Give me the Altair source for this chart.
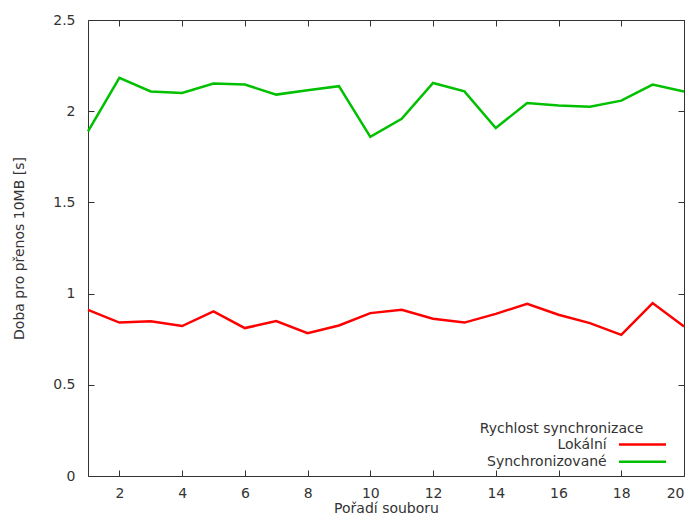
import altair as alt
import pandas as pd

poradi = list(range(1, 21))
lokalni = [0.911, 0.841, 0.849, 0.822, 0.902, 0.811, 0.849, 0.783, 0.825, 0.893,
           0.911, 0.862, 0.841, 0.889, 0.944, 0.884, 0.838, 0.774, 0.948, 0.820]
synchronizovane = [1.890, 2.183, 2.108, 2.100, 2.152, 2.146, 2.091, 2.115, 2.137, 1.859,
                   1.958, 2.155, 2.109, 1.908, 2.045, 2.031, 2.025, 2.058, 2.146, 2.108]
series_names = ["Lokální", "Synchronizované"]
series_colors = ["#ff0000", "#00c000"]
x_ticks = list(range(2, 21, 2))
y_ticks = [0, 0.5, 1, 1.5, 2, 2.5]
legend_title = "Rychlost synchronizace"
x_title = "Pořadí souboru"
y_title = "Doba pro přenos 10MB [s]"

df = pd.DataFrame({
    "poradi": poradi * 2,
    "doba": lokalni + synchronizovane,
    "serie": [series_names[0]] * len(poradi) + [series_names[1]] * len(poradi),
})

FONT = "DejaVu Sans"
FS = 14
TXT = "#333333"
x_scale = alt.Scale(domain=[1, 20], nice=False, zero=False)
y_scale = alt.Scale(domain=[0, 2.5], nice=False)
color_scale = alt.Scale(domain=series_names, range=series_colors)

lines = alt.Chart(df).mark_line(strokeWidth=2.5).encode(
    x=alt.X("poradi:Q", scale=x_scale,
            axis=alt.Axis(orient="bottom", values=x_ticks, title=x_title, offset=-6,
                          tickSize=6, labelPadding=10, titleBaseline="alphabetic",
                          titleY=42, domain=False, grid=False, format="d")),
    y=alt.Y("doba:Q", scale=y_scale,
            axis=alt.Axis(orient="left", values=y_ticks, format="~g", title=y_title,
                          offset=-6, tickSize=6, labelPadding=13, titlePadding=26,
                          domain=False, grid=False)),
    color=alt.Color("serie:N", scale=color_scale, legend=None),
)

mirror = alt.Chart(df).mark_line(strokeOpacity=0).encode(
    x=alt.X("poradi:Q", scale=x_scale,
            axis=alt.Axis(orient="top", values=x_ticks, labels=False, title="",
                          offset=-6, tickSize=6, domain=False, grid=False)),
    y=alt.Y("doba:Q", scale=y_scale,
            axis=alt.Axis(orient="right", values=y_ticks, labels=False, title="",
                          offset=-6, tickSize=6, domain=False, grid=False)),
)

leg_title = alt.Chart(pd.DataFrame({"t": [legend_title]})).mark_text(
    font=FONT, fontSize=FS, color=TXT, align="center", baseline="middle"
).encode(x=alt.value(473.5), y=alt.value(409), text="t:N")

leg_layers = []
for i, (name, col) in enumerate(zip(series_names, series_colors)):
    yy = 424.5 + i * 17.2
    d = pd.DataFrame({"label": [name]})
    leg_layers.append(
        alt.Chart(d).mark_text(font=FONT, fontSize=FS, color=TXT, align="right",
                               baseline="middle")
        .encode(x=alt.value(518.7), y=alt.value(yy), text="label:N"))
    leg_layers.append(
        alt.Chart(d).mark_rule(color=col, strokeWidth=2.5)
        .encode(x=alt.value(531), x2=alt.value(578), y=alt.value(yy)))

chart = alt.layer(lines, mirror, leg_title, *leg_layers).resolve_axis(
    x="independent", y="independent"
).properties(
    width=596, height=456,
    autosize=alt.AutoSizeParams(type="none"),
    padding={"left": 80, "top": 12, "right": 2, "bottom": 40},
).configure_view(
    stroke="#333333", strokeWidth=1
).configure_axis(
    labelFont=FONT, titleFont=FONT, labelFontSize=FS, titleFontSize=FS,
    labelColor=TXT, titleColor=TXT, titleFontWeight="normal", tickColor="#333333",
)

chart.save("out.html", embed_options={"renderer": "svg", "actions": False})
